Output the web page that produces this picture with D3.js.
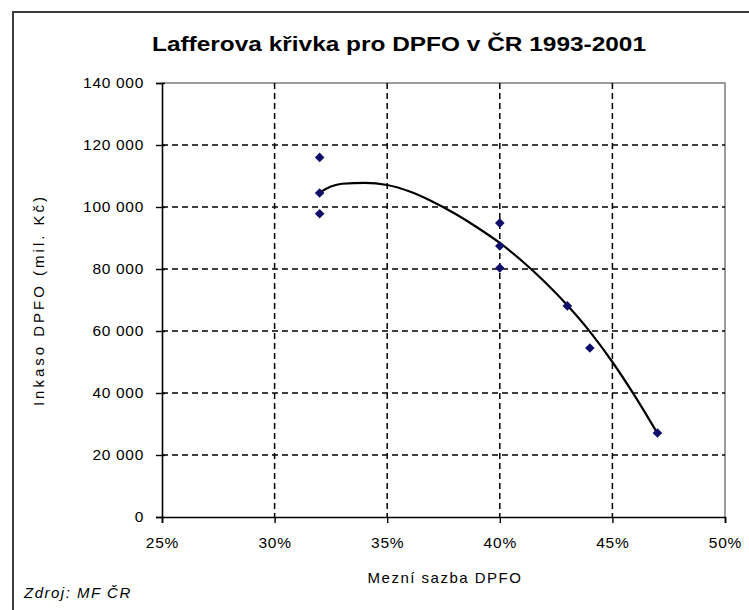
<!DOCTYPE html>
<html>
<head>
<meta charset="utf-8">
<script src="https://cdn.jsdelivr.net/npm/d3@7/dist/d3.min.js"></script>
<style>
  html, body { margin: 0; padding: 0; background: #fff; }
  svg { display: block; font-family: Arial, "Liberation Sans", sans-serif; }
</style>
</head>
<body>
<svg id="chart" width="749" height="610"></svg>
<script>
// ---- data ----
const title = "Lafferova křivka pro DPFO v ČR 1993-2001";
const xTitle = "Mezní sazba DPFO";
const yTitle = "Inkaso DPFO (mil. Kč)";
const sourceNote = "Zdroj: MF ČR";

// marginal rate (%) and revenue (mil. Kč)
const rates    = [32, 32, 32, 40, 40, 40, 43, 44, 47];
const revenues = [116000, 104500, 97800, 94800, 87400, 80300, 68100, 54500, 27100];

// polynomial trendline as drawn in the picture
const trendRates  = [32, 32.5, 33, 34, 35, 36, 37, 38, 39, 40, 41, 42, 43, 44, 45, 46, 47];
const trendValues = [104600, 106600, 107500, 107800, 107100, 105000, 101800, 97900, 93400, 88400, 82500, 75800, 68300, 59800, 50000, 39000, 27000];

const xTickValues = [25, 30, 35, 40, 45, 50];
const xTickLabels = ["25%", "30%", "35%", "40%", "45%", "50%"];
const yTickValues = [0, 20000, 40000, 60000, 80000, 100000, 120000, 140000];
const yTickLabels = ["0", "20 000", "40 000", "60 000", "80 000", "100 000", "120 000", "140 000"];

// ---- drawing ----
const svg = d3.select("#chart");
const L = 162, R = 725, T = 83, B = 517;

const x = d3.scaleLinear().domain([25, 50]).range([L, R]);
const y = d3.scaleLinear().domain([0, 140000]).range([B, T]);

svg.append("rect").attr("width", 749).attr("height", 610).attr("fill", "#fff");

// outer chart frame (continues past the right/bottom edge)
svg.append("rect")
  .attr("x", 13).attr("y", 12).attr("width", 800).attr("height", 700)
  .attr("fill", "none").attr("stroke", "#3c3c3c").attr("stroke-width", 2);

// title
svg.append("text")
  .attr("x", 399).attr("y", 51)
  .attr("text-anchor", "middle")
  .attr("font-size", 21).attr("font-weight", "bold")
  .attr("textLength", 494).attr("lengthAdjust", "spacingAndGlyphs")
  .attr("fill", "#000")
  .text(title);

// plot border (top and right in grey)
svg.append("path")
  .attr("d", `M${L},${T}H${R}V${B}`)
  .attr("fill", "none").attr("stroke", "#7f7f7f").attr("stroke-width", 1.5);

// gridlines
const gridY = yTickValues.filter(v => v > 0 && v < 140000);
svg.append("g").selectAll("line").data(gridY).join("line")
  .attr("x1", L).attr("x2", R)
  .attr("y1", d => y(d)).attr("y2", d => y(d))
  .attr("stroke", "#000").attr("stroke-width", 1.5).attr("stroke-dasharray", "6,4");
const gridX = xTickValues.filter(v => v > 25 && v < 50);
svg.append("g").selectAll("line").data(gridX).join("line")
  .attr("y1", T).attr("y2", B)
  .attr("x1", d => x(d)).attr("x2", d => x(d))
  .attr("stroke", "#000").attr("stroke-width", 1.5).attr("stroke-dasharray", "6,4");

// axes
const yAxis = d3.axisLeft(y).tickValues(yTickValues).tickSize(6).tickPadding(12)
  .tickFormat((d, i) => yTickLabels[i]);
const gy = svg.append("g").attr("transform", `translate(${L},0)`).call(yAxis);
gy.select(".domain").attr("stroke", "#000").attr("stroke-width", 1.6);
gy.selectAll(".tick line").attr("stroke", "#000").attr("stroke-width", 1.4).attr("x2", -6).attr("x1", 3);
gy.selectAll(".tick text").attr("font-size", 15.5).attr("fill", "#000")
  .attr("letter-spacing", "0.7px")
  .attr("font-family", "Arial, 'Liberation Sans', sans-serif");

const xAxis = d3.axisBottom(x).tickValues(xTickValues).tickSize(6).tickPadding(14)
  .tickFormat((d, i) => xTickLabels[i]);
const gx = svg.append("g").attr("transform", `translate(0,${B})`).call(xAxis);
gx.select(".domain").attr("stroke", "#000").attr("stroke-width", 1.6);
gx.selectAll(".tick line").attr("stroke", "#000").attr("stroke-width", 1.4);
gx.selectAll(".tick text").attr("font-size", 15.5).attr("fill", "#000")
  .attr("letter-spacing", "0.8px")
  .attr("font-family", "Arial, 'Liberation Sans', sans-serif");

// trendline
const line = d3.line().x(d => x(d[0])).y(d => y(d[1])).curve(d3.curveMonotoneX);
svg.append("path")
  .datum(trendRates.map((r, i) => [r, trendValues[i]]))
  .attr("d", line)
  .attr("fill", "none").attr("stroke", "#000").attr("stroke-width", 2.2);

// data points (navy diamonds)
const sym = d3.symbol().type(d3.symbolSquare).size(46);
svg.append("g").selectAll("path").data(rates.map((r, i) => [r, revenues[i]])).join("path")
  .attr("d", sym)
  .attr("transform", d => `translate(${x(d[0])},${y(d[1])}) rotate(45)`)
  .attr("fill", "#10106a");

// axis titles
svg.append("text")
  .attr("x", 445).attr("y", 583)
  .attr("text-anchor", "middle")
  .attr("font-size", 15).attr("letter-spacing", "1.5px").attr("fill", "#000")
  .text(xTitle);

svg.append("text")
  .attr("transform", `translate(44,${(T + B) / 2}) rotate(-90)`)
  .attr("text-anchor", "middle")
  .attr("font-size", 15).attr("letter-spacing", "3px").attr("fill", "#000")
  .text(yTitle);

// source note
svg.append("text")
  .attr("x", 24).attr("y", 598)
  .attr("font-size", 15).attr("font-style", "italic").attr("letter-spacing", "1.5px").attr("fill", "#000")
  .text(sourceNote);
</script>
</body>
</html>
